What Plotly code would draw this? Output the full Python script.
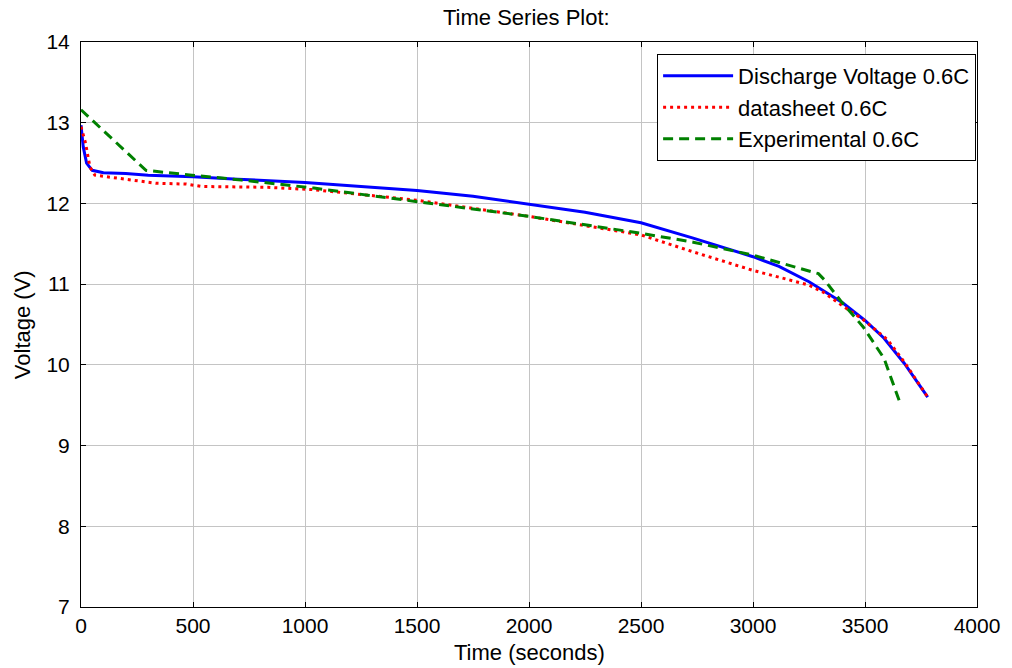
import plotly.graph_objects as go

# ---- data ----
sim_t = [0, 10, 25, 50, 100, 200, 300, 500, 700, 900, 1000, 1250, 1500, 1750,
         2000, 2250, 2500, 2733, 3000, 3116, 3250, 3320, 3400, 3500, 3585, 3675, 3780]
sim_v = [12.97, 12.70, 12.50, 12.41, 12.38, 12.37, 12.35, 12.33, 12.30, 12.27, 12.26,
         12.21, 12.16, 12.09, 11.99, 11.89, 11.76, 11.57, 11.34, 11.22, 11.03, 10.91,
         10.77, 10.55, 10.33, 10.02, 9.60]

ds_t = [0, 20, 40, 62, 172, 334, 470, 540, 834, 1040, 1500, 2000, 2500, 2733,
        3000, 3248, 3320, 3395, 3492, 3601, 3674, 3780]
ds_v = [12.95, 12.75, 12.45, 12.35, 12.31, 12.25, 12.24, 12.21, 12.20, 12.17, 12.04,
        11.84, 11.61, 11.40, 11.17, 10.99, 10.89, 10.74, 10.56, 10.31, 10.04, 9.60]

exp_t = [0, 290, 495, 716, 1040, 1500, 2000, 2500, 2733, 3000, 3292, 3320, 3395,
         3492, 3585, 3660]
exp_v = [13.16, 12.41, 12.35, 12.29, 12.19, 12.02, 11.84, 11.63, 11.52, 11.36, 11.13,
         11.05, 10.78, 10.47, 10.08, 9.50]

names = ["Discharge Voltage 0.6C", "datasheet 0.6C", "Experimental 0.6C"]
x_ticks = [0, 500, 1000, 1500, 2000, 2500, 3000, 3500, 4000]
y_ticks = [7, 8, 9, 10, 11, 12, 13, 14]

FONT = "Liberation Sans, Arial, Helvetica, sans-serif"
FS = 21
FS_T = 22

fig = go.Figure()
fig.add_trace(go.Scatter(x=sim_t, y=sim_v, mode="lines", name=names[0],
                         line=dict(color="#0000FF", width=3)))
fig.add_trace(go.Scatter(x=ds_t, y=ds_v, mode="lines", name=names[1],
                         line=dict(color="#FF0000", width=3, dash="3px,4px")))
fig.add_trace(go.Scatter(x=exp_t, y=exp_v, mode="lines", name=names[2],
                         line=dict(color="#008000", width=3, dash="10px,6px")))

axis_common = dict(showline=True, linecolor="black", linewidth=1, mirror="ticks",
                   ticks="inside", ticklen=5, tickcolor="black",
                   showgrid=True, gridcolor="#c4c4c4", gridwidth=1, zeroline=False,
                   tickfont=dict(family=FONT, size=FS, color="black"))

fig.update_layout(
    width=1012, height=668,
    margin=dict(l=81, r=25, t=42, b=61),
    paper_bgcolor="white", plot_bgcolor="white",
    font=dict(family=FONT, size=FS, color="black"),
    showlegend=True,
    legend=dict(x=0.999, y=0.979, xanchor="right", yanchor="top",
                bordercolor="black", borderwidth=1, bgcolor="white",
                font=dict(family=FONT, size=FS_T, color="black"),
                itemwidth=70, tracegroupgap=0),
    xaxis=dict(range=[0, 4000], tickvals=x_ticks, **axis_common),
    yaxis=dict(range=[7, 14], tickvals=y_ticks, ticklabelstandoff=6, **axis_common),
    annotations=[
        dict(text="Time Series Plot:", xref="paper", yref="paper", x=0.497, y=1.0425,
             xanchor="center", yanchor="middle", showarrow=False,
             font=dict(family=FONT, size=FS_T, color="black")),
        dict(text="Time (seconds)", xref="paper", yref="paper", x=0.5, y=-0.0814,
             xanchor="center", yanchor="middle", showarrow=False,
             font=dict(family=FONT, size=FS_T, color="black")),
        dict(text="Voltage (V)", xref="paper", yref="paper", x=-0.0651, y=0.5,
             xanchor="center", yanchor="middle", textangle=-90, showarrow=False,
             font=dict(family=FONT, size=FS_T, color="black")),
    ],
)

fig.write_html("out.html")
